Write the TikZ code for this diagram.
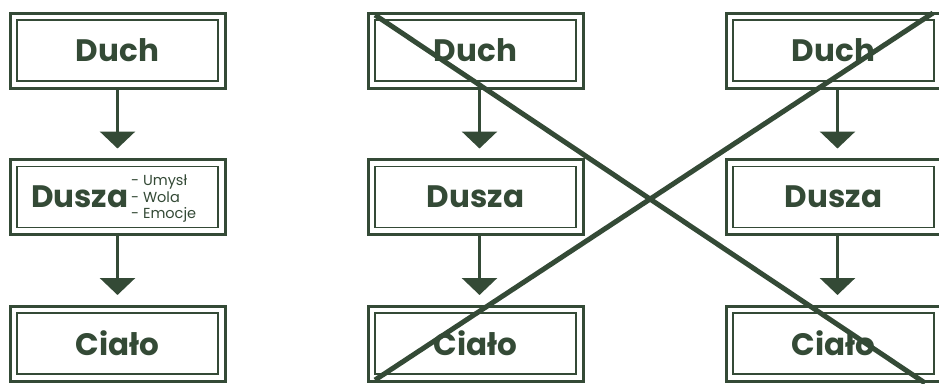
\documentclass[tikz,border=0pt]{standalone}
\usepackage{fontspec}
\setmainfont{Poppins}
\usetikzlibrary{arrows.meta}
\definecolor{ink}{RGB}{52,74,54}
\newcommand\innerframe[1]{\draw[ink,line width=1.6pt] ([xshift=7pt,yshift=-7pt]#1.north west) rectangle ([xshift=-7pt,yshift=7pt]#1.south east);}
\begin{document}
\begin{tikzpicture}[x=1pt,y=-1pt,
  box/.style={draw=ink, line width=3pt, minimum width=215pt, minimum height=75pt, inner sep=0pt, outer sep=0pt, fill=white},
  lbl/.style={font=\fontsize{31}{36}\selectfont\bfseries, text=ink, inner sep=0pt},
  lst/.style={font=\fontsize{14.5}{16.5}\selectfont, text=ink, align=left, inner sep=0pt},
  arr/.style={draw=ink, line width=3pt, -{Triangle[width=35pt,length=17pt]}, shorten >=11pt},
  cross/.style={draw=ink, line width=5pt}]
\useasboundingbox (0,0) rectangle (939,383);
\clip (0,0) rectangle (939,383);
% column 1
\node[box] (duchA) at (117.5,50.5) {};
\node[box] (duszaA) at (117.5,197) {};
\node[box] (cialoA) at (117.5,343.5) {};
% column 2
\node[box] (duchB) at (475.5,50.5) {};
\node[box] (duszaB) at (475.5,197) {};
\node[box] (cialoB) at (475.5,343.5) {};
% column 3
\node[box] (duchC) at (833.5,50.5) {};
\node[box] (duszaC) at (833.5,197) {};
\node[box] (cialoC) at (833.5,343.5) {};
\foreach \n in {duchA,duszaA,cialoA,duchB,duszaB,cialoB,duchC,duszaC,cialoC}{\innerframe{\n}}
% labels
\node[lbl] (tduchA) at (duchA) {Duch};
\node[lbl,anchor=west] (tduszaA) at (31,197) {Dusza};
\node[lst,anchor=west] (listA) at (131,199) {- Umysł\\- Wola\\- Emocje};
\node[lbl] (tcialoA) at (cialoA) {Ciało};
\node[lbl] (tduchB) at (duchB) {Duch};
\node[lbl] (tduszaB) at (duszaB) {Dusza};
\node[lbl] (tcialoB) at (cialoB) {Ciało};
\node[lbl] (tduchC) at (duchC) {Duch};
\node[lbl] (tduszaC) at (duszaC) {Dusza};
\node[lbl] (tcialoC) at (cialoC) {Ciało};
% arrows
\draw[arr] (duchA.south) -- (duszaA.north);
\draw[arr] (duszaA.south) -- (cialoA.north);
\draw[arr] ([xshift=4pt]duchB.south) -- ([xshift=4pt]duszaB.north);
\draw[arr] ([xshift=4pt]duszaB.south) -- ([xshift=4pt]cialoB.north);
\draw[arr] ([xshift=4pt]duchC.south) -- ([xshift=4pt]duszaC.north);
\draw[arr] ([xshift=4pt]duszaC.south) -- ([xshift=4pt]cialoC.north);
% crossing lines
\coordinate (xa) at (375,15);
\coordinate (xb) at (925,383);
\coordinate (xc) at (375,380);
\coordinate (xd) at (933,13);
\draw[cross] (xa) -- (xb);
\draw[cross] (xc) -- (xd);
\end{tikzpicture}
\end{document}
